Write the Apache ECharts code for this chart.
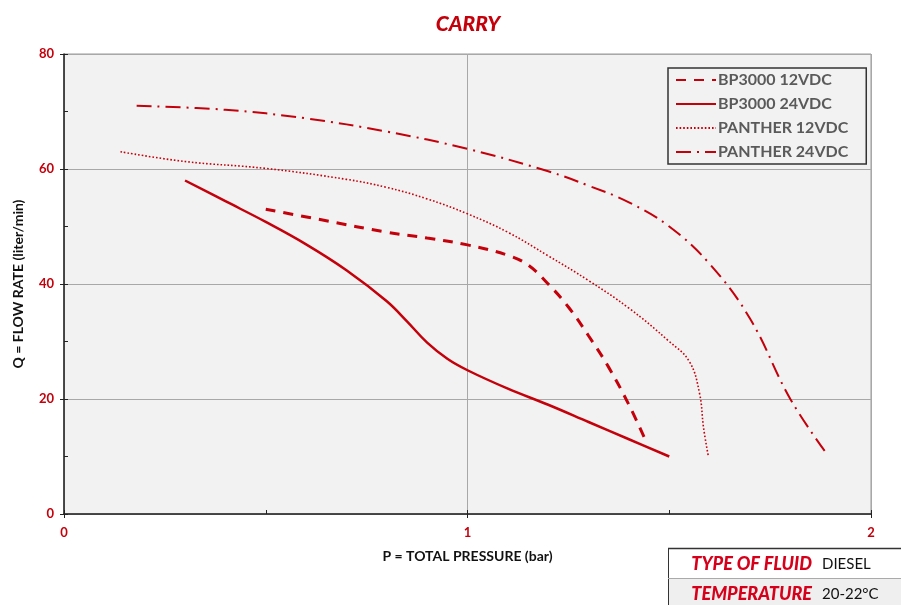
<!DOCTYPE html>
<html>
<head>
<meta charset="utf-8">
<script src="https://cdn.jsdelivr.net/npm/echarts@6/dist/echarts.min.js"></script>
<style>html,body{margin:0;padding:0;background:#fff}#c{width:901px;height:605px}</style>
</head>
<body>
<div id="c"></div>
<script>
const xTicks = [0, 1, 2];
const yTicks = [0, 20, 40, 60, 80];
const seriesNames = ['BP3000 12VDC', 'BP3000 24VDC', 'PANTHER 12VDC', 'PANTHER 24VDC'];
const bp12 = [[0.5,53],[0.65,51],[0.8,49],[0.9,48],[1.0,46.8],[1.1,45],[1.15,43.3],[1.2,40],[1.25,36],[1.3,31],[1.35,25.5],[1.4,19],[1.44,13]];
const bp24 = [[0.3,58],[0.4,54.4],[0.5,50.8],[0.6,46.9],[0.7,42.4],[0.8,37],[0.85,33.5],[0.9,29.8],[0.95,27],[1.0,25],[1.1,21.8],[1.2,19],[1.3,16],[1.4,13],[1.5,10]];
const pan12 = [[0.14,63],[0.3,61.3],[0.5,60.1],[0.7,58.2],[0.8,56.8],[0.9,54.8],[1.0,52.2],[1.1,49],[1.2,44.9],[1.3,40.6],[1.4,35.8],[1.5,30],[1.55,26.5],[1.575,21],[1.585,15],[1.597,10]];
const pan24 = [[0.18,71],[0.4,70.3],[0.6,68.8],[0.8,66.5],[1.0,63.5],[1.2,59.6],[1.3,57.1],[1.4,54.2],[1.5,50],[1.6,43.5],[1.7,34],[1.8,20],[1.89,10.5]];
const fluidLabel = 'TYPE OF FLUID', fluidValue = 'DIESEL';
const tempLabel = 'TEMPERATURE', tempValue = '20-22°C';

const RED = '#c4000b';
const FONT = 'Lato, "Noto Sans", sans-serif';
const chart = echarts.init(document.getElementById('c'), null, {renderer: 'canvas'});

function mkSeries(name, data, lineStyle) {
  return {name, type: 'line', data, smooth: 0.4, symbol: 'none', showSymbol: false,
    lineStyle: Object.assign({color: RED}, lineStyle), itemStyle: {color: RED}, z: 5};
}

chart.setOption({
  animation: false,
  title: {text: 'CARRY', left: 463, textAlign: 'center', top: 9,
    textStyle: {color: RED, fontFamily: FONT, fontSize: 21, fontWeight: 900, fontStyle: 'italic'}},
  grid: {left: 64, right: 30, top: 54, bottom: 91, show: true, backgroundColor: '#f2f2f2', borderColor: '#9a9a9a', borderWidth: 1},
  legend: {
    orient: 'vertical', left: 668, top: 68,
    backgroundColor: '#f2f2f2', borderColor: '#333', borderWidth: 1.5, borderRadius: 0,
    padding: [4, 18, 4, 7], itemGap: 8, itemWidth: 40, itemHeight: 14,
    itemStyle: {opacity: 0},
    textStyle: {color: '#5a5a5a', fontFamily: FONT, fontSize: 16, fontWeight: 'bold', padding: [0, 0, 0, -3]},
    data: seriesNames
  },
  xAxis: [{
    type: 'value', min: 0, max: 2, interval: 1,
    name: 'P = TOTAL PRESSURE (bar)', nameLocation: 'middle', nameGap: 35,
    nameTextStyle: {color: '#111', fontFamily: FONT, fontSize: 14, fontWeight: 'bold'},
    axisLine: {show: true, lineStyle: {color: '#222', width: 1.5}},
    axisTick: {show: true, length: 4, lineStyle: {color: '#222'}},
    axisLabel: {color: RED, fontFamily: FONT, fontSize: 13, fontWeight: 'bold', margin: 12,
      formatter: v => xTicks.includes(v) ? String(v) : ''},
    splitLine: {show: true, lineStyle: {color: '#a8a8a8', width: 1}}
  }, {
    type: 'value', min: 0, max: 2, interval: 0.5, position: 'bottom',
    axisLine: {show: false}, axisLabel: {show: false}, splitLine: {show: false},
    axisTick: {show: true, inside: true, length: 4, lineStyle: {color: '#222'}}
  }],
  yAxis: [{
    type: 'value', min: 0, max: 80, interval: 20,
    name: 'Q = FLOW RATE (liter/min)', nameLocation: 'middle', nameGap: 39,
    nameTextStyle: {color: '#111', fontFamily: FONT, fontSize: 14, fontWeight: 'bold'},
    axisLine: {show: true, lineStyle: {color: '#222', width: 1.5}},
    axisTick: {show: true, length: 4, lineStyle: {color: '#222'}},
    axisLabel: {color: RED, fontFamily: FONT, fontSize: 13, fontWeight: 'bold', margin: 10,
      formatter: v => yTicks.includes(v) ? String(v) : ''},
    splitLine: {show: true, lineStyle: {color: '#a8a8a8', width: 1}}
  }, {
    type: 'value', min: 0, max: 80, interval: 10, position: 'left',
    axisLine: {show: false}, axisLabel: {show: false}, splitLine: {show: false},
    axisTick: {show: true, inside: true, length: 4, lineStyle: {color: '#222'}}
  }],
  series: [
    mkSeries(seriesNames[0], bp12, {width: 3, type: [10, 8]}),
    mkSeries(seriesNames[1], bp24, {width: 2.5, type: 'solid'}),
    mkSeries(seriesNames[2], pan12, {width: 1.6, type: [1.6, 2]}),
    mkSeries(seriesNames[3], pan24, {width: 2, type: [15, 6, 2, 6]})
  ],
  graphic: [
    {type: 'rect', shape: {x: 668, y: 548, width: 240, height: 30}, style: {fill: '#ffffff', stroke: null}},
    {type: 'rect', shape: {x: 668, y: 578, width: 240, height: 30}, style: {fill: '#efefef', stroke: null}},
    {type: 'line', shape: {x1: 668, y1: 548.5, x2: 901, y2: 548.5}, style: {stroke: '#333', lineWidth: 1.5}},
    {type: 'line', shape: {x1: 668.5, y1: 548, x2: 668.5, y2: 605}, style: {stroke: '#333', lineWidth: 1}},
    {type: 'line', shape: {x1: 668, y1: 578.5, x2: 901, y2: 578.5}, style: {stroke: '#aaa', lineWidth: 1}},
    {type: 'text', x: 812, y: 564, style: {text: fluidLabel, fill: '#d7001a', font: 'italic 900 18px ' + FONT, textAlign: 'right', textVerticalAlign: 'middle'}},
    {type: 'text', x: 822, y: 564, style: {text: fluidValue, fill: '#111', font: '15px ' + FONT, textAlign: 'left', textVerticalAlign: 'middle'}},
    {type: 'text', x: 812, y: 594, style: {text: tempLabel, fill: '#d7001a', font: 'italic 900 18px ' + FONT, textAlign: 'right', textVerticalAlign: 'middle'}},
    {type: 'text', x: 822, y: 594, style: {text: tempValue, fill: '#111', font: '15px ' + FONT, textAlign: 'left', textVerticalAlign: 'middle'}}
  ]
});
</script>
</body>
</html>
